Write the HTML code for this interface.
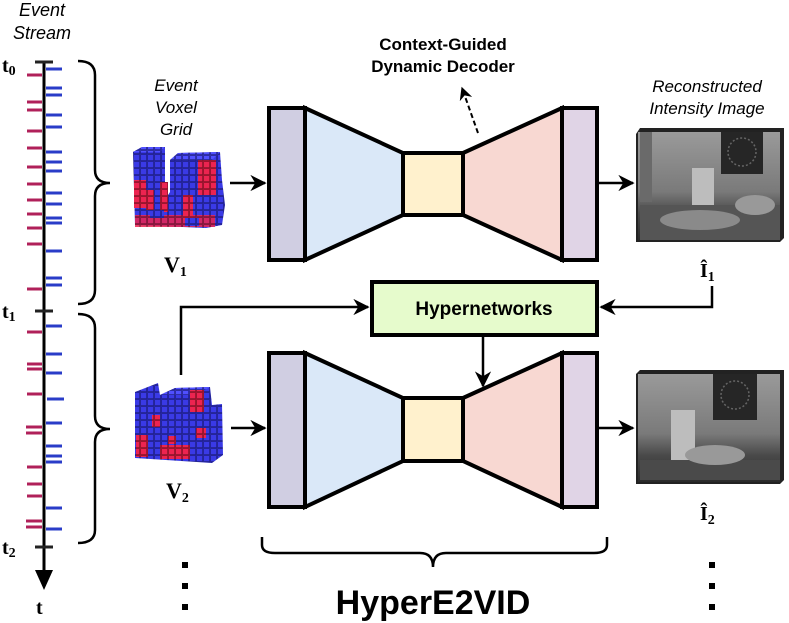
<!DOCTYPE html>
<html><head><meta charset="utf-8"><style>
html,body{margin:0;padding:0;background:#fff;}
svg{display:block}
text{font-family:"Liberation Sans",sans-serif}
.serif{font-family:"Liberation Serif",serif;font-weight:bold}
</style></head><body>
<svg width="789" height="623" viewBox="0 0 789 623" xmlns="http://www.w3.org/2000/svg">
<defs>
<pattern id="pb" width="7" height="7" patternUnits="userSpaceOnUse"><rect width="7" height="7" fill="#2f2fd8"/><rect x="0.6" y="0.6" width="6" height="6" fill="#3a3ae6" stroke="#1a1a70" stroke-width="0.6"/></pattern>
<pattern id="pt" width="7" height="5" patternUnits="userSpaceOnUse"><rect width="7" height="5" fill="#4444f0"/><rect x="0.6" y="0.6" width="6" height="4" fill="#5050ff" stroke="#1a1a70" stroke-width="0.6"/></pattern>
<pattern id="pr" width="7" height="7" patternUnits="userSpaceOnUse"><rect width="7" height="7" fill="#d81840"/><rect x="0.6" y="0.6" width="6" height="6" fill="#ec2450" stroke="#701020" stroke-width="0.6"/></pattern>
<linearGradient id="img1" x1="0" y1="0" x2="0" y2="1"><stop offset="0" stop-color="#9a9a9a"/><stop offset="0.55" stop-color="#7a7a7a"/><stop offset="0.75" stop-color="#4a4a4a"/><stop offset="1" stop-color="#2a2a2a"/></linearGradient>
<marker id="ah" viewBox="0 0 10 10" refX="9" refY="5" markerWidth="6.5" markerHeight="6.5" orient="auto"><path d="M0,0 L10,5 L0,10 L3,5 z" fill="#000"/></marker>
</defs>

<text x="42" y="16" font-size="18" font-style="italic" text-anchor="middle">Event</text>
<text x="42" y="39" font-size="18" font-style="italic" text-anchor="middle">Stream</text>
<line x1="44" y1="62" x2="44" y2="575" stroke="#000" stroke-width="3"/>
<path d="M35,570 L53,570 L44,590 z" fill="#000"/>
<g stroke="#222" stroke-width="3"><line x1="35" y1="62" x2="53" y2="62"/><line x1="35" y1="311" x2="53" y2="311"/><line x1="35" y1="547" x2="53" y2="547"/></g>
<text x="2" y="72" class="serif" font-size="20">t<tspan font-size="14" dy="3">0</tspan></text>
<text x="2" y="318" class="serif" font-size="20">t<tspan font-size="14" dy="3">1</tspan></text>
<text x="2" y="554" class="serif" font-size="20">t<tspan font-size="14" dy="3">2</tspan></text>
<text x="36" y="614" class="serif" font-size="20">t</text>
<g stroke="#b0205a" stroke-width="3">
<line x1="27" y1="75" x2="42" y2="75"/><line x1="27" y1="102" x2="42" y2="102"/><line x1="27" y1="110" x2="42" y2="110"/><line x1="27" y1="131" x2="42" y2="131"/><line x1="27" y1="148" x2="42" y2="148"/><line x1="27" y1="167" x2="42" y2="167"/><line x1="27" y1="184" x2="42" y2="184"/><line x1="27" y1="200" x2="42" y2="200"/><line x1="27" y1="214" x2="42" y2="214"/><line x1="27" y1="228" x2="42" y2="228"/><line x1="27" y1="244" x2="42" y2="244"/><line x1="27" y1="289" x2="42" y2="289"/>
<line x1="27" y1="332" x2="42" y2="332"/><line x1="27" y1="364" x2="42" y2="364"/><line x1="27" y1="369" x2="42" y2="369"/><line x1="27" y1="394" x2="42" y2="394"/><line x1="26" y1="427" x2="42" y2="427"/><line x1="26" y1="433" x2="42" y2="433"/><line x1="27" y1="467" x2="42" y2="467"/><line x1="27" y1="484" x2="42" y2="484"/><line x1="27" y1="496" x2="42" y2="496"/><line x1="26" y1="521" x2="42" y2="521"/><line x1="26" y1="527" x2="42" y2="527"/>
</g>
<g stroke="#2a3cc8" stroke-width="3">
<line x1="46" y1="69" x2="62" y2="69"/><line x1="46" y1="88" x2="62" y2="88"/><line x1="46" y1="95" x2="62" y2="95"/><line x1="46" y1="115" x2="62" y2="115"/><line x1="46" y1="127" x2="62" y2="127"/><line x1="46" y1="152" x2="62" y2="152"/><line x1="46" y1="162" x2="62" y2="162"/><line x1="46" y1="171" x2="62" y2="171"/><line x1="46" y1="193" x2="62" y2="193"/><line x1="46" y1="204" x2="62" y2="204"/><line x1="46" y1="218" x2="62" y2="218"/><line x1="46" y1="223" x2="62" y2="223"/><line x1="46" y1="251" x2="62" y2="251"/><line x1="46" y1="278" x2="62" y2="278"/><line x1="46" y1="285" x2="62" y2="285"/>
<line x1="46" y1="326" x2="62" y2="326"/><line x1="46" y1="354" x2="62" y2="354"/><line x1="46" y1="373" x2="62" y2="373"/><line x1="47" y1="399" x2="64" y2="399"/><line x1="46" y1="423" x2="62" y2="423"/><line x1="46" y1="446" x2="62" y2="446"/><line x1="46" y1="456" x2="62" y2="456"/><line x1="46" y1="462" x2="62" y2="462"/><line x1="46" y1="508" x2="62" y2="508"/><line x1="46" y1="529" x2="62" y2="529"/>
</g>
<g fill="none" stroke="#000" stroke-width="2.5">
<path d="M78,61 Q95,61 95,75 L95,170 Q95,183 110,183 Q95,183 95,196 L95,290 Q95,304 78,304"/>
<path d="M78,314 Q95,314 95,328 L95,416 Q95,429 110,429 Q95,429 95,442 L95,530 Q95,543 78,543"/>
<path d="M262,537 L262,545 Q262,553 275,553 L420,553 Q433,553 433,567 Q433,553 446,553 L594,553 Q607,553 607,545 L607,537"/>
</g>

<text x="176" y="91" font-size="17" font-style="italic" text-anchor="middle">Event</text>
<text x="176" y="113" font-size="17" font-style="italic" text-anchor="middle">Voxel</text>
<text x="176" y="135" font-size="17" font-style="italic" text-anchor="middle">Grid</text>
<g>
<polygon points="133,152 142,147 165,147 165,200 170,192 170,160 178,153 220,152 222,180 225,205 222,225 206,228 135,225" fill="url(#pb)"/>
<polygon points="133,152 142,147 165,147 160,152" fill="url(#pt)"/>
<polygon points="170,160 178,153 220,152 212,160" fill="url(#pt)"/>
<rect x="134" y="180" width="12" height="28" fill="url(#pr)"/><rect x="146" y="190" width="8" height="20" fill="url(#pr)"/>
<rect x="160" y="182" width="8" height="30" fill="url(#pr)"/><rect x="183" y="195" width="10" height="25" fill="url(#pr)"/>
<rect x="198" y="160" width="18" height="35" fill="url(#pr)"/><rect x="135" y="215" width="80" height="12" fill="url(#pr)" opacity="0.85"/>
<rect x="150" y="210" width="14" height="8" fill="url(#pb)"/><rect x="185" y="218" width="14" height="8" fill="url(#pb)"/>
</g>
<text x="164" y="272" class="serif" font-size="22">V<tspan font-size="14" dy="4">1</tspan></text>

<g>
<polygon points="135,392 158,383 160,395 175,388 210,387 212,405 222,404 223,455 212,463 135,458" fill="url(#pb)"/>
<polygon points="160,395 175,388 210,387 196,395" fill="url(#pt)"/>
<rect x="190" y="390" width="14" height="22" fill="url(#pr)"/><rect x="136" y="435" width="12" height="22" fill="url(#pr)"/>
<rect x="152" y="415" width="8" height="12" fill="url(#pr)"/><rect x="168" y="436" width="8" height="8" fill="url(#pr)"/>
<rect x="160" y="445" width="30" height="14" fill="url(#pr)"/><rect x="196" y="428" width="10" height="10" fill="url(#pr)"/>
</g>
<text x="166" y="498" class="serif" font-size="22">V<tspan font-size="14" dy="4">2</tspan></text>

<g stroke="#000" stroke-width="2.5" fill="none" marker-end="url(#ah)">
<line x1="230" y1="183" x2="265" y2="183"/>
<line x1="231" y1="428" x2="265" y2="428"/>
<line x1="598" y1="183" x2="633" y2="183"/>
<line x1="598" y1="428" x2="633" y2="428"/>
<polyline points="181,375 181,307 368,307"/>
<polyline points="712,286 712,307 601,307"/>
<line x1="483" y1="337" x2="483" y2="386"/>
</g>

<g stroke="#000" stroke-width="4" stroke-linejoin="miter">
<polygon points="305,108 403,153 403,215 305,260" fill="#dae8f8"/>
<polygon points="463,153 562,108 562,260 463,215" fill="#f8d8d2"/>
<rect x="403" y="153" width="60" height="62" fill="#fff1cd"/>
<rect x="269" y="108" width="36" height="152" fill="#d0cee2"/>
<rect x="562" y="108" width="35" height="152" fill="#e0d4e6"/>
</g>
<g stroke="#000" stroke-width="4">
<polygon points="305,353 403,398 403,461 305,507" fill="#dae8f8"/>
<polygon points="463,398 562,353 562,507 463,461" fill="#f8d8d2"/>
<rect x="403" y="398" width="60" height="63" fill="#fff1cd"/>
<rect x="269" y="353" width="36" height="154" fill="#d0cee2"/>
<rect x="562" y="353" width="35" height="154" fill="#e0d4e6"/>
</g>

<text x="443" y="50" font-size="17" font-weight="bold" text-anchor="middle">Context-Guided</text>
<text x="443" y="72" font-size="17" font-weight="bold" text-anchor="middle">Dynamic Decoder</text>
<line x1="478" y1="133" x2="462" y2="88" stroke="#000" stroke-width="2" stroke-dasharray="5,3" marker-end="url(#ah)"/>

<rect x="372" y="282" width="225" height="53" fill="#e6fbcc" stroke="#000" stroke-width="4"/>
<text x="484" y="315" font-size="19" font-weight="bold" text-anchor="middle">Hypernetworks</text>

<text x="707" y="92" font-size="17" font-style="italic" text-anchor="middle">Reconstructed</text>
<text x="707" y="114" font-size="17" font-style="italic" text-anchor="middle">Intensity Image</text>
<g>
<polygon points="636,134 640,128 784,128 784,238 780,242 636,242" fill="#222" />
<rect x="638" y="132" width="142" height="108" fill="url(#img1)"/>
<rect x="640" y="132" width="12" height="70" fill="#6a6a6a"/>
<rect x="721" y="132" width="42" height="42" fill="#262626"/>
<circle cx="742" cy="152" r="14" fill="none" stroke="#666" stroke-width="1.5" stroke-dasharray="2,2"/>
<rect x="692" y="168" width="22" height="52" fill="#bdbdbd"/>
<rect x="640" y="205" width="140" height="35" fill="#555"/>
<ellipse cx="700" cy="220" rx="40" ry="10" fill="#8a8a8a"/>
<ellipse cx="755" cy="205" rx="20" ry="10" fill="#999"/>
</g>
<text x="700" y="277" class="serif" font-size="20">Î<tspan font-size="14" dy="4">1</tspan></text>
<g>
<polygon points="636,374 640,370 784,370 784,480 780,484 636,484" fill="#222"/>
<rect x="638" y="374" width="142" height="108" fill="url(#img1)"/>
<rect x="713" y="374" width="44" height="46" fill="#262626"/>
<circle cx="735" cy="395" r="14" fill="none" stroke="#666" stroke-width="1.5" stroke-dasharray="2,2"/>
<rect x="671" y="410" width="24" height="50" fill="#bdbdbd"/>
<rect x="640" y="460" width="140" height="20" fill="#4a4a4a"/>
<ellipse cx="715" cy="455" rx="30" ry="10" fill="#999"/>
</g>
<text x="700" y="520" class="serif" font-size="20">Î<tspan font-size="14" dy="4">2</tspan></text>

<g fill="#000">
<rect x="182" y="562" width="6" height="6"/><rect x="182" y="583" width="6" height="6"/><rect x="182" y="604" width="6" height="6"/>
<rect x="709" y="562" width="6" height="6"/><rect x="709" y="583" width="6" height="6"/><rect x="709" y="604" width="6" height="6"/>
</g>
<text x="433" y="614" font-size="34" font-weight="bold" text-anchor="middle">HyperE2VID</text>
</svg>
</body></html>
